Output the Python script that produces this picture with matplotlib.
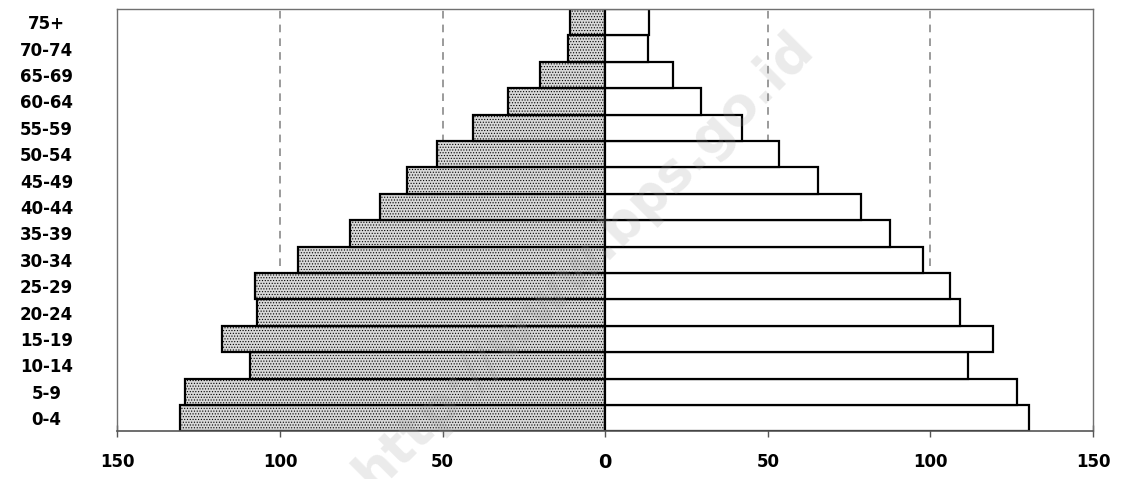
import numpy as np
import matplotlib
matplotlib.use("Agg")
import matplotlib.pyplot as plt

# age groups, youngest first (bottom of the pyramid)
age_groups = ["0-4", "5-9", "10-14", "15-19", "20-24", "25-29", "30-34", "35-39",
              "40-44", "45-49", "50-54", "55-59", "60-64", "65-69", "70-74", "75+"]
left_values = [130.9, 129.2, 109.2, 117.9, 107.2, 107.6, 94.5, 78.5,
               69.2, 61.1, 51.6, 40.6, 30.0, 20.2, 11.3, 10.8]
right_values = [130.3, 126.5, 111.7, 119.3, 109.1, 106.1, 97.8, 87.5,
                78.7, 65.5, 53.5, 42.2, 29.5, 20.8, 13.3, 13.5]
x_ticks = [-150, -100, -50, 0, 50, 100, 150]
x_ticklabels = ["150", "100", "50", "0", "50", "100", "150"]

plt.rcParams["font.family"] = ["DejaVu Sans"]
plt.rcParams["hatch.color"] = "#4a4a4a"
plt.rcParams["hatch.linewidth"] = 0.5

fig = plt.figure(figsize=(11.23, 4.79), dpi=100)
ax = fig.add_axes([0.1046, 0.0992, 0.8687, 0.882])

y = np.arange(len(age_groups))

# dashed reference lines behind the bars
for gx in [-100, -50, 50, 100]:
    ax.axvline(gx, color="#808080", linestyle=(0, (5, 4)), linewidth=1.1, zorder=0)

ax.barh(y, -np.array(left_values), height=1.0, color="#d8d8d8", hatch="......",
        edgecolor="black", linewidth=1.6, zorder=2)
ax.barh(y, right_values, height=1.0, color="white",
        edgecolor="black", linewidth=1.6, zorder=2)

ax.set_xlim(-150, 150)
ax.set_ylim(-0.5, len(age_groups) - 0.5)

ax.set_xticks(x_ticks)
ax.set_xticklabels(x_ticklabels, fontsize=12, fontweight="bold")
for lbl in ax.get_xticklabels():
    if lbl.get_text() == "0":
        lbl.set_fontsize(14)
ax.tick_params(axis="x", direction="inout", length=9, width=1, color="#555555", pad=11)

ax.set_yticks(y)
ax.set_yticklabels(age_groups, fontsize=12, fontweight="bold", ha="center")
ax.tick_params(axis="y", length=0, pad=51)

for side in ["left", "right", "top"]:
    ax.spines[side].set_color("#707070")
    ax.spines[side].set_linewidth(1)
ax.spines["bottom"].set_color("#555555")
ax.spines["bottom"].set_linewidth(1.2)

# faint watermark across the chart
fig.text(0.52, 0.455, "http://www.bps.go.id", rotation=45, fontsize=38,
         fontweight="bold", color="#9a9a9a", alpha=0.2, ha="center", va="center",
         zorder=10)

fig.savefig("out.png", dpi=100)
